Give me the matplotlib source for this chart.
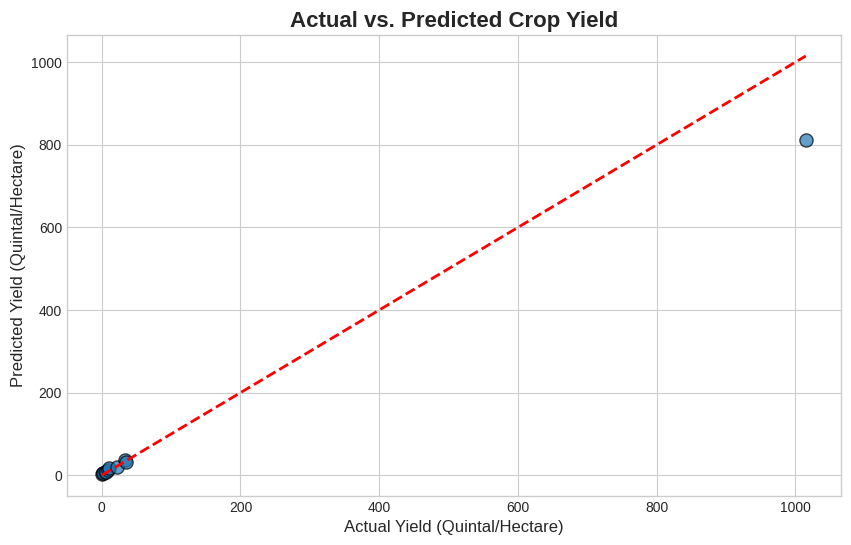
import numpy as np
import matplotlib.pyplot as plt

# 实际值与预测值
actual_yield = [0.6, 1.2, 2.5, 4.0, 6.5, 9.0, 11.0, 22.0, 33.0, 35.0, 1015.0]
predicted_yield = [3.0, 6.0, 5.5, 9.0, 8.0, 14.0, 17.0, 21.0, 38.0, 31.0, 811.0]

plt.style.use('seaborn-v0_8-whitegrid')

fig = plt.figure(figsize=(8.51, 5.45), dpi=100)
ax = fig.add_axes([0.0787, 0.0899, 0.9095, 0.8459])

ax.scatter(actual_yield, predicted_yield, s=90, alpha=0.7, color='#1f77b4',
           edgecolors='k', linewidths=1.0)

lo, hi = min(actual_yield), max(actual_yield)
ax.plot([lo, hi], [lo, hi], 'r--', lw=2)

ax.set_title('Actual vs. Predicted Crop Yield', fontsize=16, fontweight='bold')
ax.set_xlabel('Actual Yield (Quintal/Hectare)', fontsize=12)
ax.set_ylabel('Predicted Yield (Quintal/Hectare)', fontsize=12)

fig.savefig('out.png', dpi=100)
